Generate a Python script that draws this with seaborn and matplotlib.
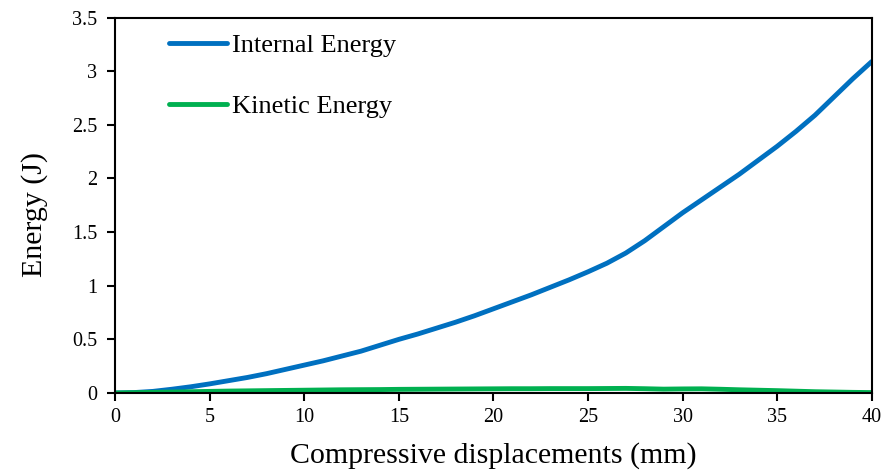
import matplotlib
matplotlib.use('Agg')
import matplotlib.pyplot as plt
import seaborn as sns
import pandas as pd

# 数据
disp = list(range(0, 41))
internal = [0, 0.004, 0.015, 0.035, 0.058, 0.085, 0.115, 0.145, 0.18, 0.22,
            0.26, 0.30, 0.345, 0.39, 0.445, 0.50, 0.55, 0.605, 0.66, 0.72,
            0.785, 0.85, 0.915, 0.985, 1.055, 1.13, 1.21, 1.305, 1.42, 1.55,
            1.68, 1.80, 1.92, 2.04, 2.17, 2.30, 2.44, 2.59, 2.76, 2.93, 3.09]
kinetic = [0, 0.003, 0.006, 0.009, 0.012, 0.015, 0.018, 0.020, 0.022, 0.024,
           0.026, 0.028, 0.030, 0.031, 0.032, 0.034, 0.035, 0.036, 0.037, 0.038,
           0.039, 0.040, 0.040, 0.041, 0.041, 0.041, 0.042, 0.043, 0.040, 0.036,
           0.038, 0.039, 0.035, 0.030, 0.026, 0.022, 0.017, 0.012, 0.009, 0.006, 0.004]

series_names = ['Internal Energy', 'Kinetic Energy']
series_colors = ['#0070C0', '#00B050']

df = pd.concat([
    pd.DataFrame({'disp': disp, 'energy': internal, 'type': series_names[0]}),
    pd.DataFrame({'disp': disp, 'energy': kinetic, 'type': series_names[1]}),
])

sns.set_style('ticks')
plt.rcParams['font.family'] = ['Liberation Serif', 'DejaVu Serif']
plt.rcParams['text.color'] = 'black'
plt.rcParams['axes.labelcolor'] = 'black'

fig = plt.figure(figsize=(8.85, 4.71), dpi=100)
ax = fig.add_axes([0.130, 0.1656, 0.855, 0.797])

sns.lineplot(data=df, x='disp', y='energy', hue='type', palette=series_colors,
             linewidth=3.5, ax=ax, legend=True)

ax.set_xlim(0, 40)
ax.set_ylim(0, 3.5)
ax.set_xticks(range(0, 41, 5))
ax.set_yticks([0, 0.5, 1, 1.5, 2, 2.5, 3, 3.5])
ax.set_yticklabels(['0', '0.5', '1', '1.5', '2', '2.5', '3', '3.5'])
ax.tick_params(direction='out', length=6, width=1.5, labelsize=14.5, colors='black')
ax.tick_params(axis='y', pad=7)
ax.tick_params(axis='x', pad=5)
for s in ax.spines.values():
    s.set_visible(True)
    s.set_linewidth(1.5)
    s.set_color('black')

ax.set_xlabel('Compressive displacements (mm)', fontsize=21.5, labelpad=11)
ax.set_ylabel('Energy (J)', fontsize=21.5)
ax.yaxis.set_label_coords(-0.088, 0.475)

leg = ax.legend(loc='upper left', bbox_to_anchor=(0.04, 1.02), frameon=False,
                fontsize=19, handlelength=2.2, handletextpad=0.2, labelspacing=1.4)
for line in leg.get_lines():
    line.set_linewidth(3.5)

fig.savefig('out.png', dpi=100)
